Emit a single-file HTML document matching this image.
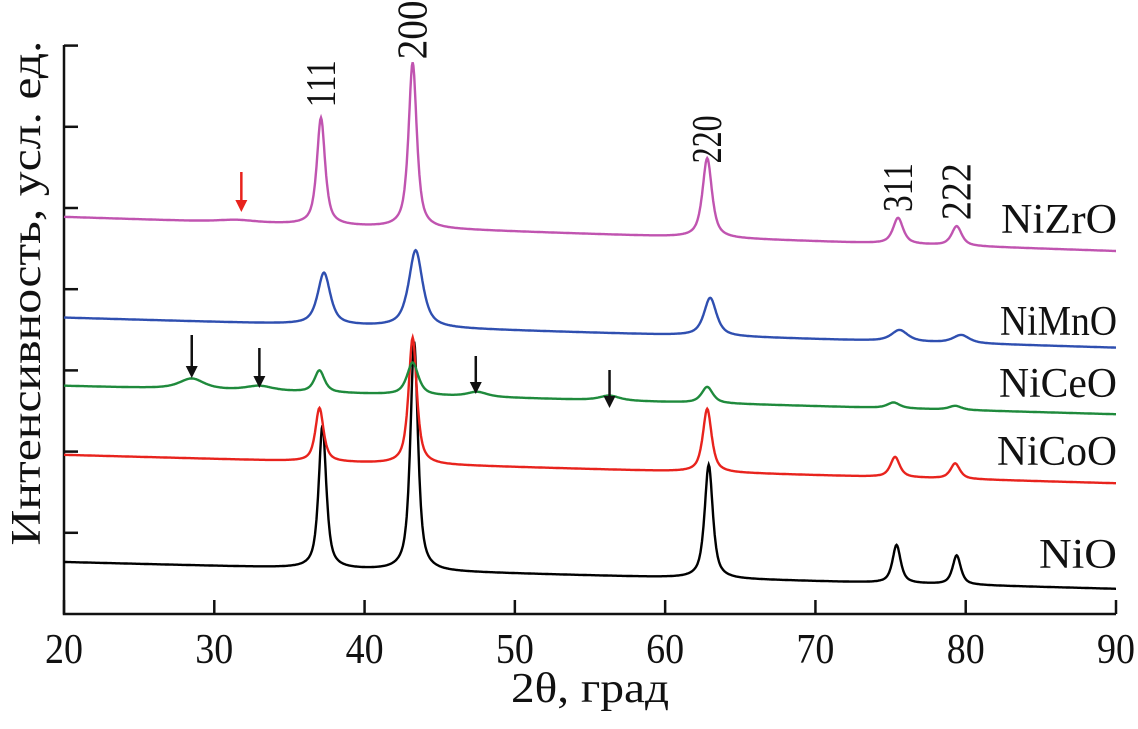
<!DOCTYPE html>
<html><head><meta charset="utf-8"><style>
html,body{margin:0;padding:0;background:#fff;}
svg text{font-family:"Liberation Serif",serif;fill:#111;}
</style></head><body>
<svg id="chart" width="1138" height="724" viewBox="0 0 1138 724" xmlns="http://www.w3.org/2000/svg">
<g id="axes"></g>
<g id="series"></g>
<g id="labels"></g>
</svg>
<script>
const xTicks=[20,30,40,50,60,70,80,90];
const yTicks=[1,2,3,4,5,6,7];
const seriesNames=["NiO","NiCoO","NiCeO","NiMnO","NiZrO"];
const seriesColors=["#000000","#e8231d","#1f8a3c","#2f4fb0","#c054b0"];
const baseStart=[0.64,1.96,2.81,3.65,4.89];
const baseEnd=[0.31,1.61,2.46,3.28,4.47];
const peakPos=[
 [37.2,43.3,62.9,75.4,79.4],
 [37.0,43.2,62.8,75.3,79.3],
 [28.5,33.0,37.0,43.2,47.5,56.3,62.8,75.2,79.3],
 [37.3,43.4,63.0,75.6,79.7],
 [31.5,37.1,43.2,62.8,75.5,79.4]
];
const peakHeight=[
 [1.76,2.82,1.40,0.47,0.36],
 [0.66,1.56,0.78,0.25,0.19],
 [0.13,0.06,0.27,0.40,0.06,0.06,0.20,0.07,0.05],
 [0.64,0.95,0.47,0.14,0.10],
 [0.03,1.32,2.04,0.98,0.32,0.24]
];
const peakWidth=[
 [0.6,0.6,0.65,0.65,0.65],
 [0.65,0.65,0.7,0.75,0.75],
 [2.0,2.2,0.8,0.9,1.6,1.6,0.9,1.0,1.0],
 [1.0,1.1,1.0,1.3,1.3],
 [3.0,0.65,0.65,0.75,0.8,0.8]
];
const peakLabels=["111","200","220","311","222"];
const peakLabelX=[37.1,43.2,62.8,75.5,79.4];
const peakLabelY=[6.24,6.83,5.55,4.95,4.85];
const redArrowX=[31.8];
const blackArrowX=[28.5,33.0,47.4,56.3];

const X0=64,X1=1116,Y0=614,U=81.2;
const xs=v=>X0+(v-20)*(X1-X0)/70;
const ys=v=>Y0-v*U;
const NS="http://www.w3.org/2000/svg";
function mk(tag,attrs,parent){const e=document.createElementNS(NS,tag);for(const k in attrs)e.setAttribute(k,attrs[k]);parent.appendChild(e);return e;}
const axes=document.getElementById('axes'),ser=document.getElementById('series'),lab=document.getElementById('labels');

let a=mk('path',{d:`M${X0},45 V${Y0} H${X1}`,fill:'none',stroke:'#111','stroke-width':2.5},axes);


xTicks.forEach(t=>{
 let l=mk('line',{x1:xs(t),x2:xs(t),y1:Y0,y2:Y0-14,stroke:'#111','stroke-width':2.5},axes);
 
 
 let tx=mk('text',{x:xs(t),y:663,'text-anchor':'middle','font-size':42,textLength:38,lengthAdjust:'spacingAndGlyphs'},axes);tx.textContent=t;
 
 
});
yTicks.forEach(t=>{
 let l=mk('line',{x1:X0,x2:X0+14,y1:ys(t),y2:ys(t),stroke:'#111','stroke-width':2.5},axes);
 
 
});
let xt=mk('text',{x:590,y:702,'text-anchor':'middle','font-size':42,textLength:158,lengthAdjust:'spacingAndGlyphs'},axes);xt.textContent="2θ, град";


let yt=mk('text',{x:0,y:0,'text-anchor':'middle','font-size':42,textLength:505,lengthAdjust:'spacingAndGlyphs',transform:'translate(40,293) rotate(-90)'},axes);yt.textContent="Интенсивность, усл. ед.";



const labelY=[568,465,397,335,233];
const labelLen=[78,120,118,117,116];
seriesNames.forEach((n,i)=>{
 let d="";
 for(let x=20;x<=90.001;x+=0.05){
  let v=baseStart[i]+(baseEnd[i]-baseStart[i])*(x-20)/70;
  peakPos[i].forEach((p,j)=>{const g=(x-p)/(peakWidth[i][j]/2);v+=peakHeight[i][j]*(0.75/(1+g*g)+0.25*Math.exp(-0.693*g*g));});
  d+=(d?"L":"M")+xs(x).toFixed(1)+","+ys(v).toFixed(1);
 }
 let p=mk('path',{d,fill:'none',stroke:seriesColors[i],'stroke-width':2.4},ser);
 
 
 let t=mk('text',{x:1117,y:labelY[i],'text-anchor':'end','font-size':42,textLength:labelLen[i],lengthAdjust:'spacingAndGlyphs'},lab);t.textContent=n;
 
 
});
const plLen=[47,59,48,49,57];
peakLabels.forEach((s,i)=>{
 let t=mk('text',{x:0,y:0,'font-size':42,textLength:plLen[i],lengthAdjust:'spacingAndGlyphs',transform:`translate(${xs(peakLabelX[i])+14},${ys(peakLabelY[i])}) rotate(-90)`},lab);t.textContent=s;
 
 
});
function arrow(x,y1,y2,c,name){
 const g=mk('g',{},lab);
 
 
 mk('line',{x1:x,x2:x,y1:y1,y2:y2-8,stroke:c,'stroke-width':2.5},g);
 mk('path',{d:`M${x-6},${y2-12} L${x},${y2} L${x+6},${y2-12} Z`,fill:c},g);
}
redArrowX.forEach(x=>arrow(xs(x),172,212,'#e8231d','red-arrow'));
const bay=[[335,378],[348,388],[356,394],[370,408]];
blackArrowX.forEach((x,i)=>arrow(xs(x),bay[i][0],bay[i][1],'#111','black-arrow'));
</script>
</body></html>
